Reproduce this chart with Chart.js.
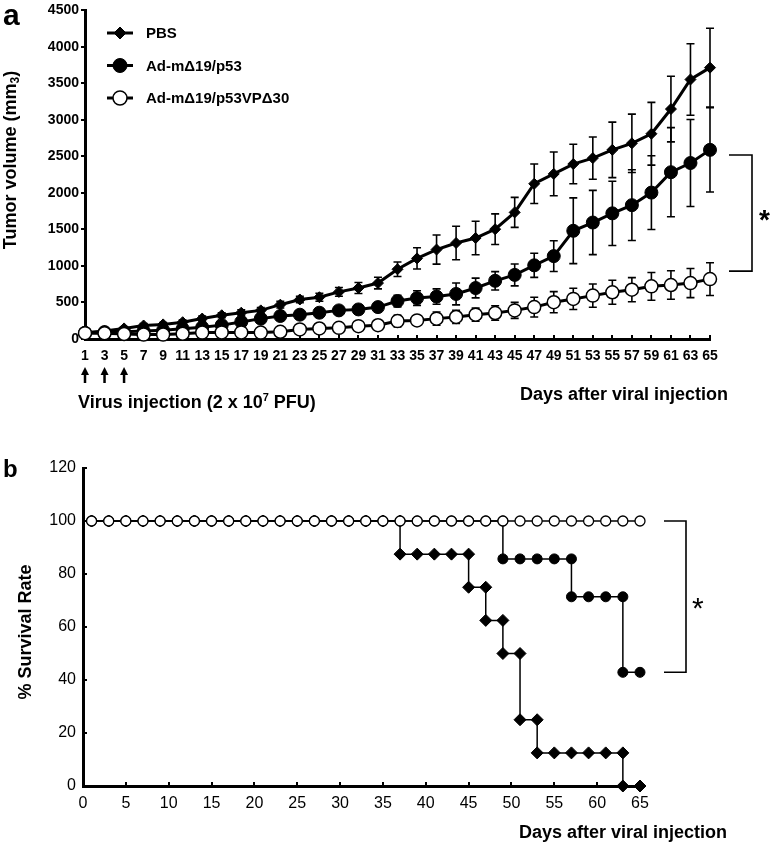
<!DOCTYPE html>
<html>
<head>
<meta charset="utf-8">
<script src="https://cdn.jsdelivr.net/npm/chart.js@4.4.0/dist/chart.umd.min.js"></script>
<style>
  body { margin: 0; background: #fff; }
  .wrap { position: absolute; left: 0; width: 771px; }
</style>
</head>
<body>
<div class="wrap" style="top:0;height:420px"><canvas id="tumor" width="771" height="420"></canvas></div>
<div class="wrap" style="top:420px;height:422px"><canvas id="survival" width="771" height="422"></canvas></div>
<script>
// panel a - tumor volume (mean +/- error) per day
let days = [1,3,5,7,9,11,13,15,17,19,21,23,25,27,29,31,33,35,37,39,41,43,45,47,49,51,53,55,57,59,61,63,65];
let pbsVolume = [85,110,145,185,200,230,280,325,360,392,470,541,572,645,698,766,955,1104,1225,1315,1383,1504,1734,2126,2261,2396,2477,2590,2680,2811,3149,3554,3716];
let pbsErr = [15,20,20,25,25,30,35,35,40,40,45,45,55,60,75,80,100,145,200,230,230,210,205,270,300,270,290,380,400,430,450,490,540];
let p53Volume = [85,95,100,110,120,140,160,190,234,279,315,333,360,392,405,437,520,560,581,617,698,797,878,1009,1135,1482,1595,1721,1833,2005,2284,2410,2590];
let p53Err = [15,15,20,20,20,25,25,30,35,40,45,45,50,50,55,60,80,100,105,150,135,125,150,165,210,450,440,440,485,505,610,595,577];
let vpVolume = [80,78,68,60,60,72,88,90,90,88,99,131,144,153,176,189,245,255,279,302,333,356,392,437,504,549,594,640,675,721,739,766,820];
let vpErr = [10,10,10,10,10,10,15,15,15,15,20,25,30,35,40,40,80,60,90,90,90,100,110,135,145,145,160,165,165,190,195,200,225];
let injectionDays = [1,3,5];
let bracketA = [2520, 930];

// panel b - survival (repeated days mark the drops)
let vpSurvDays = [1,3,5,7,9,11,13,15,17,19,21,23,25,27,29,31,33,35,37,39,41,43,45,47,49,51,53,55,57,59,61,63,65];
let vpSurv = vpSurvDays.map(() => 100);
let pbsSurvDays = [1,3,5,7,9,11,13,15,17,19,21,23,25,27,29,31,33,35,37,37,39,41,43,45,45,47,47,49,49,51,51,53,53,55,57,59,61,63,63,65];
let pbsSurv = [100,100,100,100,100,100,100,100,100,100,100,100,100,100,100,100,100,100,100,87.5,87.5,87.5,87.5,87.5,75,75,62.5,62.5,50,50,25,25,12.5,12.5,12.5,12.5,12.5,12.5,0,0];
let p53SurvDays = [1,3,5,7,9,11,13,15,17,19,21,23,25,27,29,31,33,35,37,39,41,43,45,47,49,49,51,53,55,57,57,59,61,63,63,65];
let p53Surv = [100,100,100,100,100,100,100,100,100,100,100,100,100,100,100,100,100,100,100,100,100,100,100,100,100,85.7,85.7,85.7,85.7,85.7,71.4,71.4,71.4,71.4,42.9,42.9];
let bracketB = [100, 42.9];

const FONT = 'Liberation Sans, Arial, sans-serif';
Chart.defaults.font.family = FONT;
Chart.defaults.color = '#000';

function pairs(xs, ys) { return xs.map((x, i) => ({x: x, y: ys[i]})); }

// draws text pieces (normal / super / subscript) one after the other
function drawRuns(ctx, runs, x, y) {
  let cx = x;
  runs.forEach(r => {
    ctx.font = r.font;
    ctx.fillText(r.t, cx, y + (r.dy || 0));
    cx += ctx.measureText(r.t).width;
  });
}
function runsWidth(ctx, runs) {
  let w = 0;
  runs.forEach(r => { ctx.font = r.font; w += ctx.measureText(r.t).width; });
  return w;
}

const errorBars = {
  id: 'errorBars',
  beforeDatasetsDraw(chart) {
    const ctx = chart.ctx, xs = chart.scales.x, ys = chart.scales.y;
    ctx.save();
    ctx.strokeStyle = '#000';
    ctx.lineWidth = 1.6;
    chart.data.datasets.forEach(ds => {
      ds.data.forEach((v, i) => {
        const px = xs.getPixelForValue(i);
        const top = ys.getPixelForValue(v + ds.errors[i]);
        const bot = ys.getPixelForValue(v - ds.errors[i]);
        ctx.beginPath();
        ctx.moveTo(px, top); ctx.lineTo(px, bot);
        ctx.moveTo(px - 4, top); ctx.lineTo(px + 4, top);
        ctx.moveTo(px - 4, bot); ctx.lineTo(px + 4, bot);
        ctx.stroke();
      });
    });
    ctx.restore();
  }
};

const decorA = {
  id: 'decorA',
  afterDraw(chart) {
    const ctx = chart.ctx, xs = chart.scales.x, ys = chart.scales.y, area = chart.chartArea;
    ctx.save();
    ctx.fillStyle = '#000';
    ctx.strokeStyle = '#000';

    // panel letter
    ctx.font = 'bold 30px ' + FONT;
    ctx.textBaseline = 'alphabetic';
    ctx.fillText('a', 3, 25);

    // y title, rotated, with subscript 3
    const title = [
      {t: 'Tumor volume (mm', font: 'bold 18px ' + FONT},
      {t: '3', font: 'bold 12px ' + FONT, dy: 3},
      {t: ')', font: 'bold 18px ' + FONT}
    ];
    ctx.save();
    ctx.translate(16, 160);
    ctx.rotate(-Math.PI / 2);
    drawRuns(ctx, title, -runsWidth(ctx, title) / 2, 0);
    ctx.restore();

    // legend
    const names = ['PBS', 'Ad-m\u039419/p53', 'Ad-m\u039419/p53VP\u039430'];
    chart.data.datasets.forEach((ds, i) => {
      const ly = 33 + i * 32.5;
      ctx.lineWidth = 3;
      ctx.beginPath(); ctx.moveTo(107, ly); ctx.lineTo(133, ly); ctx.stroke();
      ctx.fillStyle = ds.pointBackgroundColor;
      ctx.lineWidth = ds.pointBorderWidth;
      Chart.helpers.drawPoint(ctx, {pointStyle: ds.pointStyle, radius: ds.pointRadius + 0.5, rotation: 0, borderWidth: ds.pointBorderWidth}, 120, ly);
      ctx.fillStyle = '#000';
      ctx.font = 'bold 15px ' + FONT;
      ctx.textBaseline = 'middle';
      ctx.fillText(names[i], 146, ly + 1);
    });

    // significance bracket
    const bx0 = area.right + 19, bx1 = area.right + 42;
    const by0 = ys.getPixelForValue(bracketA[0]), by1 = ys.getPixelForValue(bracketA[1]);
    ctx.lineWidth = 1.6;
    ctx.beginPath();
    ctx.moveTo(bx0, by0); ctx.lineTo(bx1, by0); ctx.lineTo(bx1, by1); ctx.lineTo(bx0, by1);
    ctx.stroke();
    ctx.font = 'bold 28px ' + FONT;
    ctx.textBaseline = 'alphabetic';
    ctx.fillText('*', bx1 + 7, (by0 + by1) / 2 + 16);

    // injection arrows
    injectionDays.forEach(d => {
      const px = xs.getPixelForValue(days.indexOf(d));
      ctx.lineWidth = 2.5;
      ctx.beginPath(); ctx.moveTo(px, 383); ctx.lineTo(px, 373); ctx.stroke();
      ctx.beginPath(); ctx.moveTo(px, 367); ctx.lineTo(px - 4, 375); ctx.lineTo(px + 4, 375); ctx.closePath(); ctx.fill();
    });

    ctx.textBaseline = 'alphabetic';
    drawRuns(ctx, [
      {t: 'Virus injection (2 x 10', font: 'bold 18px ' + FONT},
      {t: '7', font: 'bold 11px ' + FONT, dy: -7},
      {t: ' PFU)', font: 'bold 18px ' + FONT}
    ], 78, 408);

    ctx.font = 'bold 18px ' + FONT;
    ctx.textAlign = 'right';
    ctx.fillText('Days after viral injection', 728, 400);
    ctx.restore();
  }
};

new Chart(document.getElementById('tumor'), {
  type: 'line',
  data: {
    labels: days,
    datasets: [
      {label: 'PBS', data: pbsVolume, errors: pbsErr, order: 2,
       borderColor: '#000', borderWidth: 3, pointStyle: 'rectRot', pointRadius: 5.5,
       pointBackgroundColor: '#000', pointBorderColor: '#000', pointBorderWidth: 1, clip: false},
      {label: 'Ad-m\u039419/p53', data: p53Volume, errors: p53Err, order: 1,
       borderColor: '#000', borderWidth: 3, pointStyle: 'circle', pointRadius: 6.5,
       pointBackgroundColor: '#000', pointBorderColor: '#000', pointBorderWidth: 1, clip: false},
      {label: 'Ad-m\u039419/p53VP\u039430', data: vpVolume, errors: vpErr, order: 0,
       borderColor: '#000', borderWidth: 3, pointStyle: 'circle', pointRadius: 6.5,
       pointBackgroundColor: '#fff', pointBorderColor: '#000', pointBorderWidth: 1.5, clip: false}
    ]
  },
  options: {
    responsive: false,
    animation: false,
    layout: {padding: {top: 6, left: 0, right: 61, bottom: 51}},
    plugins: {legend: {display: false}, tooltip: {enabled: false}},
    scales: {
      x: {
        type: 'category',
        offset: false,
        afterFit: s => { s.height = 30; },
        border: {color: '#000', width: 3},
        grid: {drawOnChartArea: false, color: '#000', tickLength: -4, lineWidth: 2},
        ticks: {font: {size: 14, weight: 'bold'}, padding: 13, maxRotation: 0, autoSkip: false}
      },
      y: {
        min: 0, max: 4500,
        afterFit: s => { s.width = 85; },
        border: {color: '#000', width: 3},
        grid: {drawOnChartArea: false, color: '#000', tickLength: 4, lineWidth: 2},
        ticks: {stepSize: 500, font: {size: 14, weight: 'bold'}, padding: 2, callback: v => String(v)}
      }
    }
  },
  plugins: [errorBars, decorA]
});

const decorB = {
  id: 'decorB',
  afterDraw(chart) {
    const ctx = chart.ctx, ys = chart.scales.y, area = chart.chartArea;
    ctx.save();
    ctx.fillStyle = '#000';
    ctx.strokeStyle = '#000';

    ctx.font = 'bold 24px ' + FONT;
    ctx.fillText('b', 3, 57);

    ctx.save();
    ctx.translate(26, 212);
    ctx.rotate(-Math.PI / 2);
    ctx.font = 'bold 18px ' + FONT;
    ctx.textAlign = 'center';
    ctx.textBaseline = 'middle';
    ctx.fillText('% Survival Rate', 0, 0);
    ctx.restore();

    const bx0 = area.right + 24, bx1 = area.right + 46;
    const by0 = ys.getPixelForValue(bracketB[0]), by1 = ys.getPixelForValue(bracketB[1]);
    ctx.lineWidth = 1.6;
    ctx.beginPath();
    ctx.moveTo(bx0, by0); ctx.lineTo(bx1, by0); ctx.lineTo(bx1, by1); ctx.lineTo(bx0, by1);
    ctx.stroke();
    ctx.font = '30px ' + FONT;
    ctx.fillText('*', bx1 + 6, (by0 + by1) / 2 + 21);

    ctx.font = 'bold 18px ' + FONT;
    ctx.textAlign = 'right';
    ctx.fillText('Days after viral injection', 727, 418);
    ctx.restore();
  }
};

new Chart(document.getElementById('survival'), {
  type: 'line',
  data: {
    datasets: [
      {label: 'PBS', data: pairs(pbsSurvDays, pbsSurv), order: 2,
       borderColor: '#000', borderWidth: 1.5, pointStyle: 'rectRot', pointRadius: 6,
       pointBackgroundColor: '#000', pointBorderColor: '#000', pointBorderWidth: 1, clip: false},
      {label: 'Ad-m\u039419/p53', data: pairs(p53SurvDays, p53Surv), order: 1,
       borderColor: '#000', borderWidth: 1.5, pointStyle: 'circle', pointRadius: 5,
       pointBackgroundColor: '#000', pointBorderColor: '#000', pointBorderWidth: 1, clip: false},
      {label: 'Ad-m\u039419/p53VP\u039430', data: pairs(vpSurvDays, vpSurv), order: 0,
       borderColor: '#000', borderWidth: 1.5, pointStyle: 'circle', pointRadius: 5,
       pointBackgroundColor: '#fff', pointBorderColor: '#000', pointBorderWidth: 1.3, clip: false}
    ]
  },
  options: {
    responsive: false,
    animation: false,
    layout: {padding: {top: 48, left: 0, right: 131, bottom: 26}},
    plugins: {legend: {display: false}, tooltip: {enabled: false}},
    scales: {
      x: {
        type: 'linear', min: 0, max: 65,
        afterFit: s => { s.height = 30; },
        border: {color: '#000', width: 3},
        grid: {drawOnChartArea: false, color: '#000', tickLength: -4, lineWidth: 2},
        ticks: {stepSize: 5, font: {size: 16}, padding: 12, maxRotation: 0}
      },
      y: {
        min: 0, max: 120,
        afterFit: s => { s.width = 83; },
        border: {color: '#000', width: 3},
        grid: {drawOnChartArea: false, color: '#000', tickLength: -4, lineWidth: 2},
        ticks: {stepSize: 20, font: {size: 16}, padding: 11}
      }
    }
  },
  plugins: [decorB]
});
</script>
</body>
</html>
